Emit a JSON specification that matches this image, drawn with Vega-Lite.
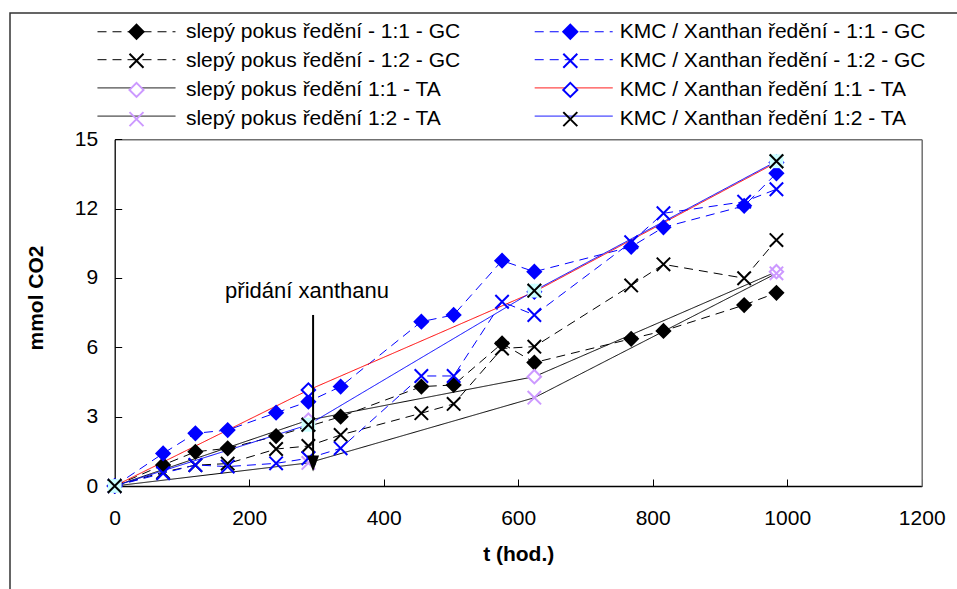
{
  "$schema": "https://vega.github.io/schema/vega-lite/v6.json",
  "width": 950,
  "height": 580,
  "autosize": "none",
  "padding": {"left": 10, "top": 13, "right": 0, "bottom": 0},
  "background": "white",
  "config": {
    "view": {"stroke": "#333333", "strokeWidth": 1.5},
    "font": "Liberation Sans",
    "axis": {"labelFont": "Liberation Sans", "titleFont": "Liberation Sans", "labelColor": "#000", "titleColor": "#000", "grid": false},
    "legend": {"labelFont": "Liberation Sans", "labelColor": "#000"}
  },
  "datasets": {
    "main": [
      {"g": "S1", "s": "slepý pokus  ředění - 1:1 - GC", "t": 0, "v": 0},
      {"g": "S1", "s": "slepý pokus  ředění - 1:1 - GC", "t": 72, "v": 0.91},
      {"g": "S1", "s": "slepý pokus  ředění - 1:1 - GC", "t": 120, "v": 1.48},
      {"g": "S1", "s": "slepý pokus  ředění - 1:1 - GC", "t": 168, "v": 1.63},
      {"g": "S1", "s": "slepý pokus  ředění - 1:1 - GC", "t": 240, "v": 2.16},
      {"g": "S1", "s": "slepý pokus  ředění - 1:1 - GC", "t": 336, "v": 3.0},
      {"g": "S1", "s": "slepý pokus  ředění - 1:1 - GC", "t": 456, "v": 4.3},
      {"g": "S1", "s": "slepý pokus  ředění - 1:1 - GC", "t": 504, "v": 4.37},
      {"g": "S1", "s": "slepý pokus  ředění - 1:1 - GC", "t": 576, "v": 6.17},
      {"g": "S1", "s": "slepý pokus  ředění - 1:1 - GC", "t": 624, "v": 5.34},
      {"g": "S1", "s": "slepý pokus  ředění - 1:1 - GC", "t": 768, "v": 6.37},
      {"g": "S1", "s": "slepý pokus  ředění - 1:1 - GC", "t": 816, "v": 6.71},
      {"g": "S1", "s": "slepý pokus  ředění - 1:1 - GC", "t": 936, "v": 7.83},
      {"g": "S1", "s": "slepý pokus  ředění - 1:1 - GC", "t": 984, "v": 8.36},
      {"g": "S2", "s": "slepý pokus  ředění - 1:2 - GC", "t": 0, "v": 0},
      {"g": "S2", "s": "slepý pokus  ředění - 1:2 - GC", "t": 72, "v": 0.6},
      {"g": "S2", "s": "slepý pokus  ředění - 1:2 - GC", "t": 120, "v": 0.9},
      {"g": "S2", "s": "slepý pokus  ředění - 1:2 - GC", "t": 168, "v": 0.97},
      {"g": "S2", "s": "slepý pokus  ředění - 1:2 - GC", "t": 240, "v": 1.6},
      {"g": "S2", "s": "slepý pokus  ředění - 1:2 - GC", "t": 288, "v": 1.73},
      {"g": "S2", "s": "slepý pokus  ředění - 1:2 - GC", "t": 336, "v": 2.21},
      {"g": "S2", "s": "slepý pokus  ředění - 1:2 - GC", "t": 456, "v": 3.15},
      {"g": "S2", "s": "slepý pokus  ředění - 1:2 - GC", "t": 504, "v": 3.55},
      {"g": "S2", "s": "slepý pokus  ředění - 1:2 - GC", "t": 576, "v": 5.95},
      {"g": "S2", "s": "slepý pokus  ředění - 1:2 - GC", "t": 624, "v": 6.03},
      {"g": "S2", "s": "slepý pokus  ředění - 1:2 - GC", "t": 768, "v": 8.68},
      {"g": "S2", "s": "slepý pokus  ředění - 1:2 - GC", "t": 816, "v": 9.59},
      {"g": "S2", "s": "slepý pokus  ředění - 1:2 - GC", "t": 936, "v": 8.99},
      {"g": "S2", "s": "slepý pokus  ředění - 1:2 - GC", "t": 984, "v": 10.64},
      {"g": "S3", "s": "slepý pokus ředění 1:1 - TA", "t": 0, "v": 0},
      {"g": "S3", "s": "slepý pokus ředění 1:1 - TA", "t": 288, "v": 2.85},
      {"g": "S3", "s": "slepý pokus ředění 1:1 - TA", "t": 624, "v": 4.73},
      {"g": "S3", "s": "slepý pokus ředění 1:1 - TA", "t": 984, "v": 9.27},
      {"g": "S4", "s": "slepý pokus ředění 1:2 - TA", "t": 0, "v": 0},
      {"g": "S4", "s": "slepý pokus ředění 1:2 - TA", "t": 288, "v": 1.0},
      {"g": "S4", "s": "slepý pokus ředění 1:2 - TA", "t": 624, "v": 3.82},
      {"g": "S4", "s": "slepý pokus ředění 1:2 - TA", "t": 984, "v": 9.2},
      {"g": "K1", "s": "KMC / Xanthan ředění - 1:1 - GC", "t": 0, "v": 0},
      {"g": "K1", "s": "KMC / Xanthan ředění - 1:1 - GC", "t": 72, "v": 1.41},
      {"g": "K1", "s": "KMC / Xanthan ředění - 1:1 - GC", "t": 120, "v": 2.28},
      {"g": "K1", "s": "KMC / Xanthan ředění - 1:1 - GC", "t": 168, "v": 2.42},
      {"g": "K1", "s": "KMC / Xanthan ředění - 1:1 - GC", "t": 240, "v": 3.17},
      {"g": "K1", "s": "KMC / Xanthan ředění - 1:1 - GC", "t": 288, "v": 3.65},
      {"g": "K1", "s": "KMC / Xanthan ředění - 1:1 - GC", "t": 336, "v": 4.3},
      {"g": "K1", "s": "KMC / Xanthan ředění - 1:1 - GC", "t": 456, "v": 7.11},
      {"g": "K1", "s": "KMC / Xanthan ředění - 1:1 - GC", "t": 504, "v": 7.4},
      {"g": "K1", "s": "KMC / Xanthan ředění - 1:1 - GC", "t": 576, "v": 9.75},
      {"g": "K1", "s": "KMC / Xanthan ředění - 1:1 - GC", "t": 624, "v": 9.27},
      {"g": "K1", "s": "KMC / Xanthan ředění - 1:1 - GC", "t": 768, "v": 10.35},
      {"g": "K1", "s": "KMC / Xanthan ředění - 1:1 - GC", "t": 816, "v": 11.19},
      {"g": "K1", "s": "KMC / Xanthan ředění - 1:1 - GC", "t": 936, "v": 12.12},
      {"g": "K1", "s": "KMC / Xanthan ředění - 1:1 - GC", "t": 984, "v": 13.53},
      {"g": "K2", "s": "KMC / Xanthan ředění - 1:2 - GC", "t": 0, "v": 0},
      {"g": "K2", "s": "KMC / Xanthan ředění - 1:2 - GC", "t": 72, "v": 0.55},
      {"g": "K2", "s": "KMC / Xanthan ředění - 1:2 - GC", "t": 120, "v": 0.91},
      {"g": "K2", "s": "KMC / Xanthan ředění - 1:2 - GC", "t": 168, "v": 0.84},
      {"g": "K2", "s": "KMC / Xanthan ředění - 1:2 - GC", "t": 240, "v": 0.98},
      {"g": "K2", "s": "KMC / Xanthan ředění - 1:2 - GC", "t": 288, "v": 1.2},
      {"g": "K2", "s": "KMC / Xanthan ředění - 1:2 - GC", "t": 336, "v": 1.63},
      {"g": "K2", "s": "KMC / Xanthan ředění - 1:2 - GC", "t": 456, "v": 4.76},
      {"g": "K2", "s": "KMC / Xanthan ředění - 1:2 - GC", "t": 504, "v": 4.76},
      {"g": "K2", "s": "KMC / Xanthan ředění - 1:2 - GC", "t": 576, "v": 7.97},
      {"g": "K2", "s": "KMC / Xanthan ředění - 1:2 - GC", "t": 624, "v": 7.4},
      {"g": "K2", "s": "KMC / Xanthan ředění - 1:2 - GC", "t": 768, "v": 10.55},
      {"g": "K2", "s": "KMC / Xanthan ředění - 1:2 - GC", "t": 816, "v": 11.8},
      {"g": "K2", "s": "KMC / Xanthan ředění - 1:2 - GC", "t": 936, "v": 12.3},
      {"g": "K2", "s": "KMC / Xanthan ředění - 1:2 - GC", "t": 984, "v": 12.84},
      {"g": "K3", "s": "KMC / Xanthan ředění 1:1 - TA", "t": 0, "v": 0},
      {"g": "K3", "s": "KMC / Xanthan ředění 1:1 - TA", "t": 288, "v": 4.15},
      {"g": "K3", "s": "KMC / Xanthan ředění 1:1 - TA", "t": 624, "v": 8.4},
      {"g": "K3", "s": "KMC / Xanthan ředění 1:1 - TA", "t": 984, "v": 14.0},
      {"g": "K4", "s": "KMC / Xanthan ředění 1:2 - TA", "t": 0, "v": 0},
      {"g": "K4", "s": "KMC / Xanthan ředění 1:2 - TA", "t": 288, "v": 2.65},
      {"g": "K4", "s": "KMC / Xanthan ředění 1:2 - TA", "t": 624, "v": 8.45},
      {"g": "K4", "s": "KMC / Xanthan ředění 1:2 - TA", "t": 984, "v": 14.05}
    ],
    "annot": [
      {"t": 295, "top": 7.4, "bottom": 1.2, "tip": 0.97, "lt": 286, "lv": 8.13, "label": "přidání xanthanu"}
    ]
  },
  "layer": [
    {
      "data": {"name": "main"},
      "mark": {"type": "line", "strokeWidth": 1},
      "encoding": {
        "x": {"field": "t", "type": "quantitative",
          "scale": {"domain": [0, 1200], "range": [104.7, 911.7], "nice": false, "zero": false},
          "axis": {"orient": "bottom", "offset": -107, "values": [0, 200, 400, 600, 800, 1000, 1200], "format": "d",
            "labelFontSize": 21, "labelPadding": 28.5, "labelFlush": false, "labelOverlap": false,
            "tickSize": -7, "tickColor": "#000", "domainColor": "#000", "domainWidth": 1.3,
            "title": "t (hod.)", "titleFontSize": 21, "titleFontWeight": "bold", "titleY": 74.5, "titleBaseline": "alphabetic"}},
        "y": {"field": "v", "type": "quantitative",
          "scale": {"domain": [0, 15], "range": [473, 126.3], "nice": false, "zero": false},
          "axis": {"orient": "left", "offset": -104.7, "values": [0, 3, 6, 9, 12, 15],
            "labelFontSize": 21, "labelPadding": 24, "labelOverlap": false,
            "tickSize": -7, "tickColor": "#000", "domainColor": "#000", "domainWidth": 1.3,
            "title": "mmol CO2", "titleFontSize": 21, "titleFontWeight": "bold", "titleX": -72.4, "titleY": 284.5,
            "titleBaseline": "alphabetic", "titleAngle": 270, "titleAlign": "center"}},
        "color": {"field": "g", "type": "nominal",
          "scale": {"domain": ["S1", "S2", "S3", "S4", "K1", "K2", "K3", "K4"],
            "range": ["#000000", "#000000", "#000000", "#000000", "#0000ff", "#0000ff", "#ff0000", "#0000ff"]},
          "legend": {"orient": "none", "legendX": 116, "legendY": 8, "columns": 2, "columnPadding": 346.2, "rowPadding": 6.2,
            "symbolType": "M-5.57,0L5.57,0", "symbolSize": 196, "symbolStrokeWidth": 1, "symbolFillColor": "transparent",
            "labelFontSize": 21, "labelOffset": 38.9, "labelExpr": "''", "title": null, "padding": 0}},
        "strokeDash": {"field": "g", "type": "nominal",
          "scale": {"domain": ["S1", "S2", "S3", "S4", "K1", "K2", "K3", "K4"],
            "range": [[9, 6], [9, 6], [1, 0], [1, 0], [9, 6], [9, 6], [1, 0], [1, 0]]},
          "legend": {"orient": "none", "legendX": 116, "legendY": 8}}
      }
    },
    {
      "data": {"name": "main"},
      "mark": {"type": "point", "opacity": 1, "strokeWidth": 2, "size": 180},
      "encoding": {
        "x": {"field": "t", "type": "quantitative",
          "axis": {"orient": "top", "offset": -126.3, "domainColor": "#707070", "domainWidth": 1.5, "ticks": false, "labels": false, "title": null}},
        "y": {"field": "v", "type": "quantitative",
          "axis": {"orient": "right", "offset": -38.3, "domainColor": "#707070", "domainWidth": 1.5, "ticks": false, "labels": false, "title": null}},
        "shape": {"field": "s", "type": "nominal",
          "scale": {"domain": ["slepý pokus  ředění - 1:1 - GC", "slepý pokus  ředění - 1:2 - GC", "slepý pokus ředění 1:1 - TA", "slepý pokus ředění 1:2 - TA", "KMC / Xanthan ředění - 1:1 - GC", "KMC / Xanthan ředění - 1:2 - GC", "KMC / Xanthan ředění 1:1 - TA", "KMC / Xanthan ředění 1:2 - TA"],
            "range": ["diamond", "M-1,-1L1,1M-1,1L1,-1", "diamond", "M-1,-1L1,1M-1,1L1,-1", "diamond", "M-1,-1L1,1M-1,1L1,-1", "diamond", "M-1,-1L1,1M-1,1L1,-1"]},
          "legend": {"orient": "none", "legendX": 116, "legendY": 8, "columns": 2, "columnPadding": 91.8, "rowPadding": 6.2,
            "symbolSize": 196, "symbolStrokeWidth": 2, "symbolOpacity": 1,
            "labelFontSize": 21, "labelOffset": 38.9, "labelLimit": 600, "title": null, "padding": 0}},
        "fill": {"field": "s", "type": "nominal",
          "scale": {"domain": ["slepý pokus  ředění - 1:1 - GC", "slepý pokus  ředění - 1:2 - GC", "slepý pokus ředění 1:1 - TA", "slepý pokus ředění 1:2 - TA", "KMC / Xanthan ředění - 1:1 - GC", "KMC / Xanthan ředění - 1:2 - GC", "KMC / Xanthan ředění 1:1 - TA", "KMC / Xanthan ředění 1:2 - TA"],
            "range": ["#000000", "transparent", "#ffffff", "transparent", "#0000ff", "transparent", "#ffffff", "transparent"]},
          "legend": {"orient": "none", "legendX": 116, "legendY": 8}},
        "stroke": {"field": "s", "type": "nominal",
          "scale": {"domain": ["slepý pokus  ředění - 1:1 - GC", "slepý pokus  ředění - 1:2 - GC", "slepý pokus ředění 1:1 - TA", "slepý pokus ředění 1:2 - TA", "KMC / Xanthan ředění - 1:1 - GC", "KMC / Xanthan ředění - 1:2 - GC", "KMC / Xanthan ředění 1:1 - TA", "KMC / Xanthan ředění 1:2 - TA"],
            "range": ["#000000", "#000000", "#cc99ff", "#cc99ff", "#0000ff", "#0000ff", "#0000ff", "#000000"]},
          "legend": {"orient": "none", "legendX": 116, "legendY": 8}}
      }
    },
    {
      "data": {"name": "main"},
      "transform": [{"filter": {"field": "g", "equal": "K4"}}],
      "mark": {"type": "point", "shape": "square", "filled": true, "color": "#ccffff", "opacity": 1, "size": 190, "strokeWidth": 0},
      "encoding": {
        "x": {"field": "t", "type": "quantitative", "axis": null},
        "y": {"field": "v", "type": "quantitative", "axis": null}
      }
    },
    {
      "data": {"name": "main"},
      "transform": [{"filter": {"field": "g", "equal": "K4"}}],
      "mark": {"type": "point", "shape": "M-1,-1L1,1M-1,1L1,-1", "filled": false, "stroke": "#000000", "opacity": 1, "size": 180, "strokeWidth": 2},
      "encoding": {
        "x": {"field": "t", "type": "quantitative", "axis": null},
        "y": {"field": "v", "type": "quantitative", "axis": null}
      }
    },
    {
      "data": {"name": "annot"},
      "mark": {"type": "rule", "color": "#000000", "strokeWidth": 2},
      "encoding": {
        "x": {"field": "t", "type": "quantitative", "axis": null},
        "y": {"field": "top", "type": "quantitative", "axis": null},
        "y2": {"field": "bottom"}
      }
    },
    {
      "data": {"name": "annot"},
      "mark": {"type": "point", "shape": "M-0.75,-1L0.75,-1L0,1Z", "filled": true, "color": "#000000", "opacity": 1, "size": 256},
      "encoding": {
        "x": {"field": "t", "type": "quantitative", "axis": null},
        "y": {"field": "tip", "type": "quantitative", "axis": null}
      }
    },
    {
      "data": {"name": "annot"},
      "mark": {"type": "text", "font": "Liberation Sans", "fontSize": 22, "align": "center", "baseline": "alphabetic", "color": "#000000"},
      "encoding": {
        "x": {"field": "lt", "type": "quantitative", "axis": null},
        "y": {"field": "lv", "type": "quantitative", "axis": null},
        "text": {"field": "label"}
      }
    }
  ],
  "resolve": {"axis": {"x": "independent", "y": "independent"}}
}
